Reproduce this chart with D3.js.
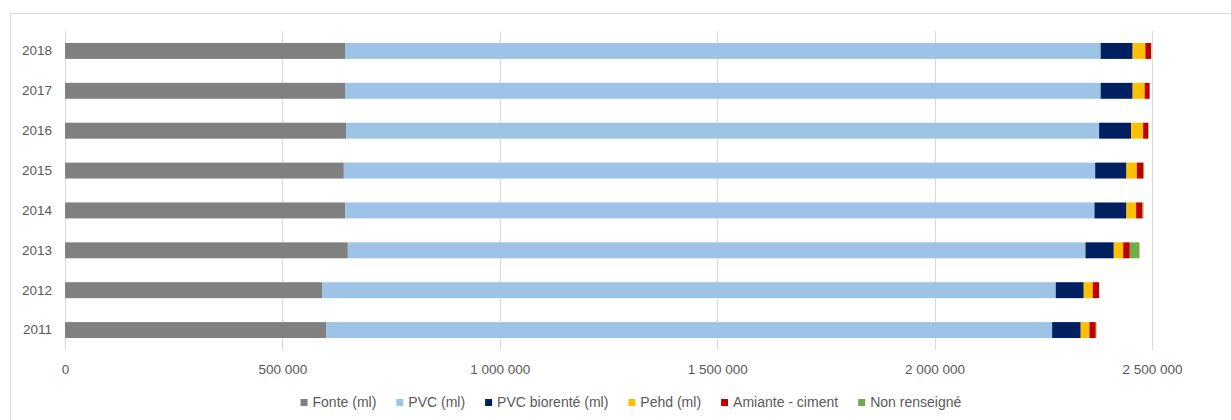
<!DOCTYPE html>
<html>
<head>
<meta charset="utf-8">
<style>
  body { margin: 0; background: #fff; }
  svg text { font-family: "Liberation Sans", Arial, sans-serif; fill: #595959; }
</style>
</head>
<body>
<svg width="1231" height="420"></svg>
<script src="https://cdn.jsdelivr.net/npm/d3@7"></script>
<script>
// donnees (longueurs en ml)
var years = ["2018", "2017", "2016", "2015", "2014", "2013", "2012", "2011"];
var seriesNames = ["Fonte (ml)", "PVC (ml)", "PVC biorenté (ml)", "Pehd (ml)", "Amiante - ciment", "Non renseigné"];
var fonte      = [644000, 644000, 646500, 641300, 644300, 650500, 591300, 600500];
var pvc        = [1737900, 1737900, 1731900, 1728000, 1723400, 1696500, 1687300, 1669800];
var pvcBio     = [73600, 73600, 73600, 72000, 73600, 65100, 64400, 65800];
var pehd       = [29200, 27600, 27600, 23700, 22300, 21600, 20700, 20000];
var amiante    = [13100, 11500, 11500, 14700, 14500, 15200, 14700, 14500];
var nonRens    = [700, 0, 1400, 2300, 2300, 22300, 0, 1600];
var xTicks = [0, 500000, 1000000, 1500000, 2000000, 2500000];
var colors = ["#808080", "#9dc3e6", "#002060", "#ffc000", "#c00000", "#70ad47"];

var table = years.map(function(y, i) {
  return {year: y, s0: fonte[i], s1: pvc[i], s2: pvcBio[i], s3: pehd[i], s4: amiante[i], s5: nonRens[i]};
});
var keys = ["s0", "s1", "s2", "s3", "s4", "s5"];

var svg = d3.select("svg");
var margin = {top: 31, left: 65};
var width = 1152 - 65, height = 319;

// cadre du graphique
svg.append("rect")
  .attr("x", 10.5).attr("y", 13.5)
  .attr("width", 1300).attr("height", 500)
  .attr("fill", "none").attr("stroke", "#d9d9d9");

var g = svg.append("g").attr("transform", "translate(" + margin.left + "," + margin.top + ")");

var x = d3.scaleLinear().domain([0, 2500000]).range([0, width]);
var y = d3.scaleBand().domain(years).range([0, height]).paddingInner(0.6).paddingOuter(0.3);

var fr = d3.formatLocale({decimal: ",", thousands: "\u2009", grouping: [3], currency: ["", " €"]});
var fmt = fr.format(",d");

// grille verticale
g.append("g").selectAll("line").data(xTicks).enter().append("line")
  .attr("x1", function(d) { return Math.round(x(d)) + 0.5; })
  .attr("x2", function(d) { return Math.round(x(d)) + 0.5; })
  .attr("y1", 0).attr("y2", height)
  .attr("stroke", "#d9d9d9");

var stack = d3.stack().keys(keys)(table);

g.append("g").selectAll("g").data(stack).enter().append("g")
  .attr("fill", function(d, i) { return colors[i]; })
  .selectAll("rect").data(function(d) { return d; }).enter().append("rect")
  .attr("x", function(d) { return x(d[0]); })
  .attr("width", function(d) { return x(d[1]) - x(d[0]); })
  .attr("y", function(d) { return y(d.data.year); })
  .attr("height", y.bandwidth());

// axe x
var xAxis = d3.axisBottom(x).tickValues(xTicks).tickSize(0).tickPadding(0).tickFormat(function(d) { return fmt(d).replace(/\u2009/g, " "); });
var xa = g.append("g").attr("transform", "translate(0," + height + ")").call(xAxis);
xa.select(".domain").remove();
xa.selectAll("text").attr("y", 24).attr("dy", 0).style("font-size", "13.5px").style("fill", "#595959");

// axe y
var yAxis = d3.axisLeft(y).tickSize(0).tickPadding(13);
var ya = g.append("g").call(yAxis);
ya.select(".domain").remove();
ya.selectAll("text").style("font-size", "13.5px").style("fill", "#595959");

// legende
var legend = svg.append("g");
var items = legend.selectAll("g").data(seriesNames).enter().append("g");
items.append("rect").attr("width", 7).attr("height", 7).attr("y", -7)
  .attr("fill", function(d, i) { return colors[i]; });
items.append("text").attr("x", 12).attr("y", 0).attr("dy", "0.1em")
  .style("font-size", "14px").text(function(d) { return d; });
var pos = 0, offs = [];
items.each(function() {
  offs.push(pos);
  pos += this.getBBox().width + 20;
});
pos -= 20;
var start = 631 - pos / 2;
items.attr("transform", function(d, i) { return "translate(" + (start + offs[i]) + ",0)"; });
legend.attr("transform", "translate(0,406)");
</script>
</body>
</html>
